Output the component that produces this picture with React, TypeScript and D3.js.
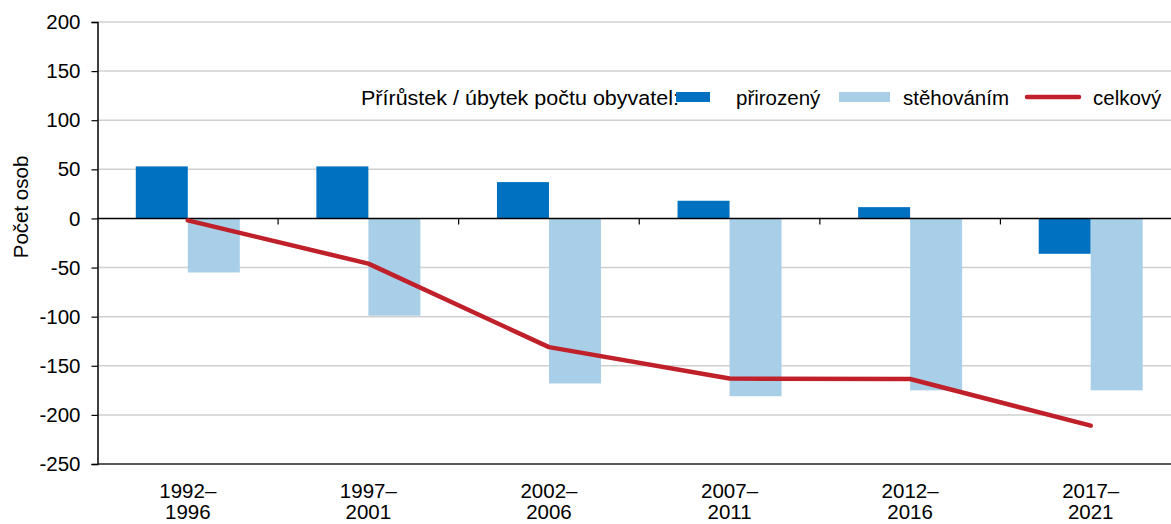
import React, { useEffect, useRef } from 'react'
import * as d3 from 'd3'

const periods = ['1992–1996', '1997–2001', '2002–2006', '2007–2011', '2012–2016', '2017–2021']
const natural = [53, 53, 37, 18, 11.5, -36]
const migration = [-55, -99, -168, -181, -175, -175]
const total = [-2, -46, -131, -163, -163.5, -211]
const yTicks = [200, 150, 100, 50, 0, -50, -100, -150, -200, -250]

const W = 1171
const H = 524

export default function App() {
    const ref = useRef<SVGSVGElement>(null)

    useEffect(() => {
        const svg = d3.select(ref.current)
        svg.selectAll('*').remove()

        const margin = { top: 22, bottom: 60, left: 97.5 }
        const font = 'Liberation Sans, Arial, sans-serif'
        const fs = 20.5

        // plot runs a bit past the right edge of the picture
        const x = d3.scaleBand<string>()
            .domain(periods)
            .range([margin.left, 1181])

        const y = d3.scaleLinear()
            .domain([-250, 200])
            .range([H - margin.bottom, margin.top])

        const barW = 52

        // gridlines
        svg.append('g')
            .selectAll('line')
            .data(yTicks.filter(d => d !== 0 && d !== -250))
            .join('line')
            .attr('x1', margin.left)
            .attr('x2', W)
            .attr('y1', d => y(d))
            .attr('y2', d => y(d))
            .attr('stroke', '#d0d0d0')
            .attr('stroke-width', 1.5)

        // y axis
        const yAxis = svg.append('g')
            .attr('transform', `translate(${margin.left},0)`)
            .call(d3.axisLeft(y).tickValues(yTicks).tickSize(6).tickPadding(11).tickFormat(d => String(d)))
        yAxis.select('.domain').attr('stroke', '#000').attr('stroke-width', 1.5)
        yAxis.selectAll('.tick line').attr('stroke', '#000').attr('stroke-width', 1.2)
        yAxis.selectAll('text')
            .attr('font-family', font)
            .attr('font-size', fs)
            .attr('fill', '#000')

        // bottom border
        svg.append('line')
            .attr('x1', margin.left).attr('x2', W)
            .attr('y1', y(-250)).attr('y2', y(-250))
            .attr('stroke', '#222').attr('stroke-width', 1.5)

        const data = periods.map((p, i) => ({ p, nat: natural[i], mig: migration[i], tot: total[i] }))
        const cx = (p: string) => x(p)! + x.bandwidth() / 2

        // bars
        svg.append('g').selectAll('rect')
            .data(data)
            .join('rect')
            .attr('x', d => cx(d.p) - barW)
            .attr('width', barW)
            .attr('y', d => y(Math.max(0, d.nat)))
            .attr('height', d => Math.abs(y(d.nat) - y(0)))
            .attr('fill', '#0070c0')

        svg.append('g').selectAll('rect')
            .data(data)
            .join('rect')
            .attr('x', d => cx(d.p))
            .attr('width', barW)
            .attr('y', d => y(Math.max(0, d.mig)))
            .attr('height', d => Math.abs(y(d.mig) - y(0)))
            .attr('fill', '#a8cee8')

        // zero line + category ticks
        svg.append('line')
            .attr('x1', margin.left).attr('x2', W)
            .attr('y1', y(0)).attr('y2', y(0))
            .attr('stroke', '#000').attr('stroke-width', 1.5)

        svg.append('g').selectAll('line')
            .data(periods.slice(1))
            .join('line')
            .attr('x1', d => x(d)!).attr('x2', d => x(d)!)
            .attr('y1', y(0)).attr('y2', y(0) + 6)
            .attr('stroke', '#000').attr('stroke-width', 1.2)

        // total line
        const line = d3.line<typeof data[0]>()
            .x(d => cx(d.p))
            .y(d => y(d.tot))
        svg.append('path')
            .datum(data)
            .attr('d', line)
            .attr('fill', 'none')
            .attr('stroke', '#c0202a')
            .attr('stroke-width', 4.5)
            .attr('stroke-linecap', 'round')
            .attr('stroke-linejoin', 'round')

        // x labels
        const xl = svg.append('g').selectAll('text')
            .data(periods)
            .join('text')
            .attr('y', 498)
            .attr('text-anchor', 'middle')
            .attr('font-family', font)
            .attr('font-size', fs)
        xl.append('tspan').attr('x', d => cx(d)).text(d => d.split('–')[0] + '–')
        xl.append('tspan').attr('x', d => cx(d)).attr('dy', 21).text(d => d.split('–')[1])

        // y title
        svg.append('text')
            .attr('transform', 'translate(28,207) rotate(-90)')
            .attr('text-anchor', 'middle')
            .attr('font-family', font)
            .attr('font-size', fs)
            .text('Počet osob')

        // legend
        const lg = svg.append('g').attr('font-family', font).attr('font-size', fs)
        lg.append('text').attr('x', 361).attr('y', 105)
            .attr('textLength', 318).attr('lengthAdjust', 'spacingAndGlyphs')
            .text('Přírůstek / úbytek počtu obyvatel:')
        lg.append('rect').attr('x', 676).attr('y', 92).attr('width', 34).attr('height', 10).attr('fill', '#0070c0')
        lg.append('text').attr('x', 736).attr('y', 105).text('přirozený')
        lg.append('rect').attr('x', 839).attr('y', 92).attr('width', 51).attr('height', 10).attr('fill', '#a8cee8')
        lg.append('text').attr('x', 903).attr('y', 105).text('stěhováním')
        lg.append('line').attr('x1', 1027).attr('x2', 1079).attr('y1', 97).attr('y2', 97)
            .attr('stroke', '#c0202a').attr('stroke-width', 4.5).attr('stroke-linecap', 'round')
        lg.append('text').attr('x', 1093).attr('y', 105).text('celkový')
    }, [])

    return (
        <svg ref={ref} width={W} height={H}
            style={{ position: 'absolute', left: 0, top: 0, background: '#fff' }} />
    )
}
